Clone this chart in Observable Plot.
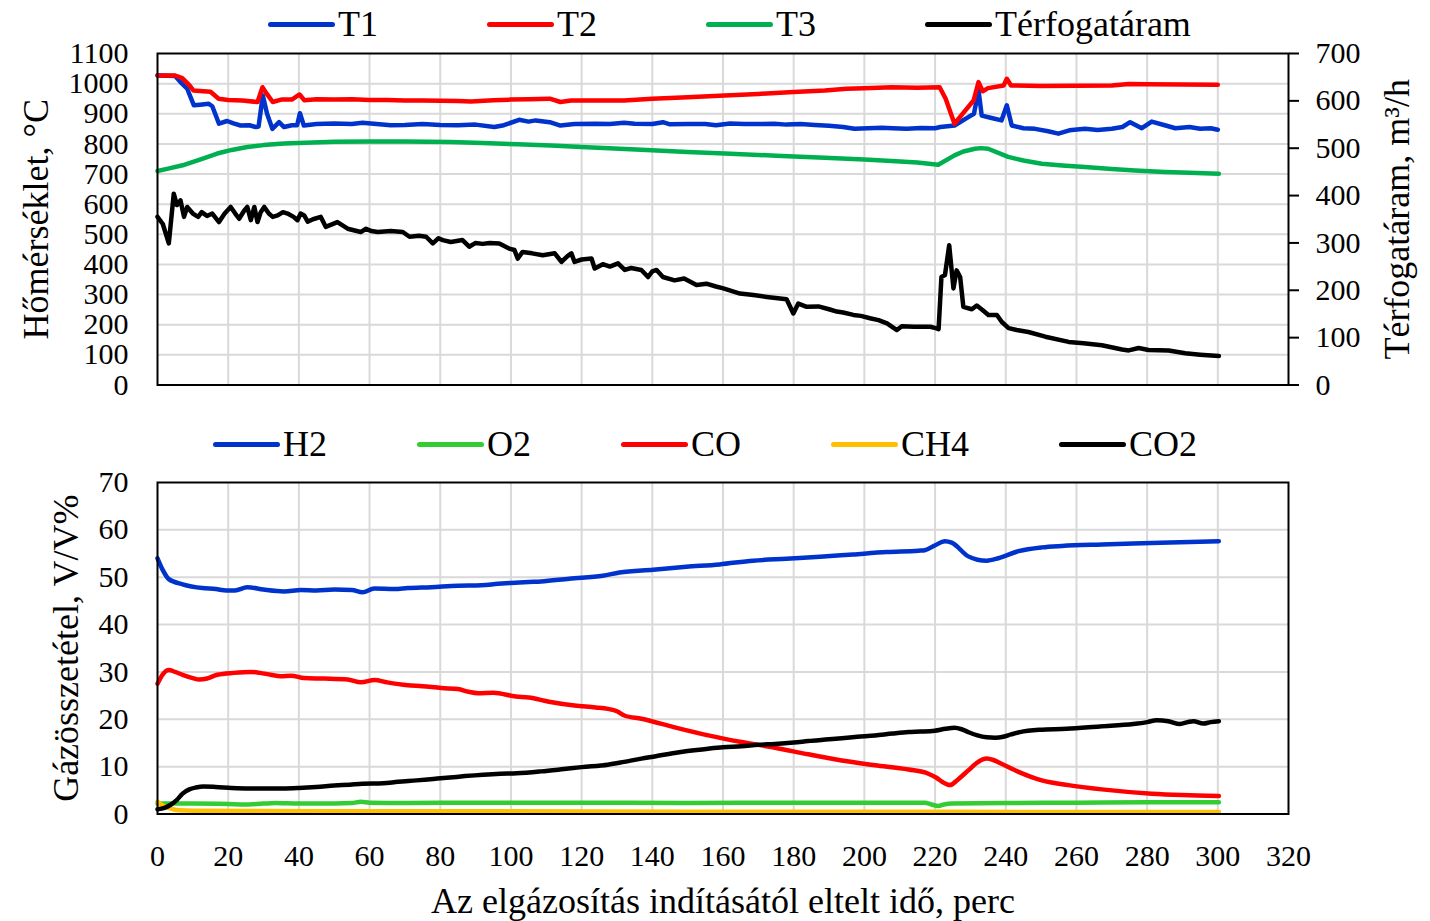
<!DOCTYPE html>
<html>
<head>
<meta charset="utf-8">
<script src="https://cdn.jsdelivr.net/npm/d3@7"></script>
<script src="https://cdn.jsdelivr.net/npm/@observablehq/plot@0.6"></script>
<style>
  body { margin: 0; background: #fff; font-family: "Liberation Serif", "Times New Roman", serif; }
  #wrap { position: relative; width: 1430px; height: 921px; overflow: hidden; background: #fff; }
  .legend { position: absolute; display: flex; align-items: center; height: 40px; line-height: 40px; font-size: 36px; white-space: nowrap; color: #000; }
  .item { display: flex; align-items: center; }
  .swatch { width: 67px; height: 5px; border-radius: 3px; margin-right: 3px; }
  #topChart { position: absolute; left: 0; top: 40px; }
  #bottomChart { position: absolute; left: 0; top: 460px; }
</style>
</head>
<body>
<div id="wrap">
  <div id="topLegend" class="legend" style="left:268px; top:4px; gap:109px;"></div>
  <div id="topChart"></div>
  <div id="bottomLegend" class="legend" style="left:213px; top:424px; gap:90px;"></div>
  <div id="bottomChart"></div>
</div>
<script>
// ---- Time axis (minutes since gasification start) ----
const xTicks = d3.range(0, 321, 20);

// ---- Upper panel: temperatures (°C) and volume flow (m3/h), [minute, value] ----
const tempTicks = d3.range(0, 1101, 100);
const flowTicks = d3.range(0, 701, 100);
const tempNames = ["T1", "T2", "T3", "Térfogatáram"];
const tempColors = ["#0033cc", "#ff0000", "#00b050", "#000000"];

const t1Points = [[0,1027],[5,1025],[6.5,1005],[8.4,983],[10.3,928],[12,930],[14.5,933],[15.5,925],[17.4,867],[19.7,876],[21.5,868],[23.5,861],[26,862],[27.8,856],[28.6,858],[29.8,961],[31,900],[32.5,850],[34.4,872],[35.8,856],[38,862],[39.5,862],[40.3,902],[41.4,861],[45,866],[50,868],[55,866],[58,870],[62,866],[66,862],[70,863],[75,866],[80,863],[85,862],[90,864],[95.3,856],[98,862],[102.3,880],[105,874],[107,878],[111,872],[114,861],[118,866],[124,867],[128,866],[132,870],[135,867],[140,866],[143,872],[145,865],[150,866],[155,866],[158,862],[162,868],[166,866],[170,866],[174.5,867],[178,864],[182,866],[186,863],[190,860],[194,856],[197.2,850],[201,852],[205,854],[208,852],[212,850],[216,853],[220,852],[221.5,856],[225.5,861],[229.4,889],[231,900],[232.3,977],[233.2,894],[236,886],[238.8,878],[240.3,928],[241.7,861],[245,852],[248.3,850],[252,842],[254.9,834],[258,845],[262.4,850],[266,846],[270,850],[273,856],[275.2,872],[278.5,852],[281.3,874],[285,862],[288,852],[292,856],[295,850],[298,852],[300,847]];

const t2Points = [[0,1027],[5,1027],[7,1018],[9,995],[10.2,977],[13,975],[15,973],[17.3,950],[20,946],[24,944],[28.3,939],[29.7,988],[31,965],[32.6,939],[35,947],[38,947],[40.2,964],[41.5,945],[45,948],[50,947],[55,948],[60,946],[65,946],[70,944],[75,944],[80,943],[85,942],[88.7,941],[95,945],[100,947],[105,948],[111,950],[114,939],[117,944],[124,944],[132,944],[140,950],[150,955],[160.5,961],[170,966],[180,972],[188.8,977],[195,983],[200,985],[207.7,988],[215,986],[221.3,988],[223,950],[225.5,867],[228,903],[230.9,944],[232.3,1005],[233.5,975],[235,985],[239.4,994],[240.3,1016],[241.5,994],[250,992],[260,993],[270,994],[274.8,999],[280,998],[290,997],[300,996]];

const t3Points = [[0,710],[3,718],[7.1,729],[12,748],[16.9,768],[21,780],[25.4,790],[30,796],[35.8,801],[42,804],[50,807],[59.5,808],[70,808],[83,806],[92,803],[101.9,799],[111.3,795],[120,790],[136.9,781],[150,773],[160.5,768],[175,761],[188.8,754],[200,748],[207.7,743],[215,738],[220.9,731],[225.5,762],[228,775],[231.3,784],[233,786],[235,784],[240.7,757],[245,745],[250.2,734],[256,728],[262.4,723],[270,717],[276.6,712],[285,707],[292,704],[300.3,701]];

const flowPoints = [[0,355],[1.5,340],[3.2,299],[4.6,404],[5.5,380],[6.5,390],[7.5,355],[8.4,376],[10,362],[11.5,355],[12.5,365],[14,357],[15.5,362],[17.4,344],[19,362],[20.7,376],[22,362],[23.1,351],[24.5,368],[25.4,376],[26.4,348],[27.4,376],[28.3,344],[29.2,365],[30.2,376],[31.5,362],[32.6,355],[34,358],[35.5,365],[36.8,362],[38.5,355],[39.6,348],[40.5,362],[41.5,358],[42.5,345],[44,350],[46.2,355],[47.6,334],[50.9,344],[53.8,330],[57.5,323],[59,330],[60.5,325],[62.3,323],[66,325],[69.4,323],[71.3,313],[74,315],[76,313],[77.9,299],[79.5,310],[80.7,306],[83,302],[86.3,306],[88.2,292],[90,300],[92,298],[94,300],[96.7,299],[99.5,288],[101,285],[101.9,267],[103.3,281],[106,278],[109,274],[112.4,278],[114.3,260],[116,272],[117.1,278],[118,260],[120,265],[122.8,267],[123.7,246],[126,255],[128,250],[130.3,257],[132.2,243],[134,247],[136.9,243],[138.8,228],[140,240],[141.2,243],[143,228],[146.3,221],[149,225],[152.5,211],[155.3,214],[158,208],[160.1,204],[164.8,193],[168.6,190],[172.4,186],[178,181],[179.9,151],[181.3,172],[183.7,165],[187,166],[190,160],[192.2,155],[194,153],[196.9,148],[199,146],[201.6,141],[204,137],[206.4,130],[209.2,116],[210.6,124],[214,123],[218.6,123],[220.2,120],[221,118],[221.8,228],[222.8,232],[224,295],[225.2,204],[226.1,242],[227.1,228],[228,165],[230.4,160],[231.8,168],[233.5,158],[235.1,148],[237.5,148],[238.9,133],[240.8,120],[243.1,116],[246.4,112],[251.2,102],[257.8,91],[262,88],[267.2,84],[272.9,75],[274.8,73],[277.6,78],[280.4,74],[286.1,73],[290.8,67],[295,64],[300.3,61]];

// ---- Lower panel: gas composition (V/V%), [minute, value] ----
const gasTicks = d3.range(0, 71, 10);
const gasNames = ["H2", "O2", "CO", "CH4", "CO2"];
const gasColors = ["#0033cc", "#33cc33", "#ff0000", "#ffc000", "#000000"];

const h2Points = [[0,54],[1.5,51.5],[3.2,49.6],[7.1,48.5],[12.7,47.7],[16.5,47.5],[19.5,47.2],[21.9,47.2],[25.4,47.9],[30,47.4],[35.8,47],[40.6,47.3],[45,47.2],[50,47.4],[55,47.3],[58,46.8],[61.3,47.6],[67,47.5],[70.8,47.7],[77.4,47.9],[85,48.2],[91.6,48.3],[96.3,48.6],[100,48.8],[105,49],[108.5,49.1],[116.5,49.7],[126,50.3],[130.7,51],[140.2,51.6],[149.6,52.2],[159,52.7],[168.5,53.5],[177.9,53.9],[187.4,54.3],[196.8,54.8],[206.3,55.3],[215.3,55.6],[217.1,55.7],[219.9,56.7],[222.8,57.6],[224.7,57.3],[229.4,54.4],[232,53.7],[234.6,53.5],[237.9,54],[243.6,55.5],[250.2,56.3],[255.9,56.6],[267.2,56.9],[281.3,57.2],[300.3,57.6]];

const o2Points = [[0,2.2],[10,2.2],[20,2.1],[24.6,2.0],[30,2.2],[33.3,2.3],[40,2.2],[50,2.2],[55,2.3],[57.6,2.6],[60,2.4],[70,2.3],[90,2.4],[120,2.4],[150,2.3],[180,2.4],[200,2.4],[215.3,2.4],[217.1,2.4],[219,2.0],[220.9,1.7],[222.5,2.0],[224.7,2.2],[240,2.3],[260,2.4],[280,2.5],[300.3,2.5]];

const coPoints = [[0,27.5],[1.5,29.5],[3.2,30.4],[5,30],[7.1,29.4],[10,28.7],[11.8,28.4],[14,28.6],[16.9,29.4],[21.6,29.8],[26.4,30],[29,29.8],[32,29.4],[34.9,29.1],[37.8,29.2],[41.5,28.7],[47.2,28.6],[53.8,28.4],[57.6,27.8],[61.4,28.3],[65,27.8],[70.8,27.2],[75,27],[80.3,26.6],[85,26.4],[88,25.8],[90.7,25.5],[95,25.6],[101.4,24.8],[105,24.6],[110.8,23.7],[118,22.9],[124,22.5],[127.4,22.2],[130,21.7],[132.1,20.8],[136.9,20.1],[146.3,18.3],[155.8,16.6],[165.2,15.2],[174.7,14],[184.1,12.6],[193.6,11.3],[203,10.3],[212.5,9.4],[218.1,8.5],[220.5,7.6],[222,6.8],[224.2,6.1],[226.5,7.3],[229.4,9.2],[232,10.9],[234.6,11.7],[236.5,11.4],[238.8,10.6],[243.6,8.9],[250.2,7.1],[257.7,6.1],[267.2,5.2],[281.3,4.3],[290,4],[300.3,3.8]];

const ch4Points = [[0,2.6],[1.5,1.8],[3.6,1.2],[6,0.8],[10,0.7],[50,0.6],[100,0.6],[150,0.5],[200,0.5],[250,0.4],[300.3,0.4]];

const co2Points = [[0,1],[2,1.3],[3.6,1.9],[5.5,3],[7.1,4.3],[9,5.2],[10.9,5.6],[13,5.8],[16.5,5.7],[21,5.5],[26,5.4],[30,5.4],[35.4,5.4],[40,5.5],[44.9,5.7],[50,6],[54.4,6.2],[58,6.4],[63.8,6.5],[68,6.8],[73.3,7.1],[78,7.4],[82.7,7.7],[87,8],[92.2,8.3],[97,8.5],[101.6,8.6],[108.5,9],[115,9.5],[120,9.9],[127.4,10.4],[132,11],[136.9,11.7],[141,12.2],[146.3,12.9],[150,13.3],[155.8,13.8],[160,14.1],[165.2,14.3],[170,14.6],[174.7,14.8],[180,15.1],[184.1,15.4],[190,15.8],[193.6,16],[198,16.3],[203,16.6],[208,17],[212.5,17.3],[216,17.4],[219.9,17.6],[223,18],[225.5,18.2],[227.5,17.9],[229.4,17.3],[232,16.6],[234.6,16.2],[237,16.1],[239.3,16.3],[241.5,16.8],[244,17.3],[249.6,17.8],[257.2,18],[266.6,18.5],[276.1,19],[280,19.4],[282.7,19.8],[286,19.6],[289.3,19],[291.5,19.4],[293.1,19.6],[295.9,19.1],[298,19.4],[300.3,19.6]];

// ---- helpers ----
const rows = (pts) => pts.map(([t, v]) => ({t, v}));
const flowToTemp = 1100 / 700; // secondary axis mapped onto the temperature scale
const plain = d => String(d);
const gridStyle = {stroke: "#d9d9d9", strokeOpacity: 1, strokeWidth: 2};
const fontStyle = {fontFamily: "'Liberation Serif', 'Times New Roman', serif", fontSize: "30px", color: "#000", background: "transparent", overflow: "visible"};

function legend(el, names, colors) {
  const items = d3.select(el).selectAll(".item").data(names).join("div").attr("class", "item");
  items.append("div").attr("class", "swatch").style("background", (d, i) => colors[i]);
  items.append("span").text(d => d);
}
legend("#topLegend", tempNames, tempColors);
legend("#bottomLegend", gasNames, gasColors);

// ---- upper chart ----
const tempSeries = [t1Points, t2Points, t3Points];
const topPlot = Plot.plot({
  width: 1430, height: 355,
  marginLeft: 157, marginRight: 142, marginTop: 13, marginBottom: 10.5,
  style: fontStyle,
  x: {domain: [0, 320], axis: null, label: null},
  y: {domain: [0, 1100], label: null},
  marks: [
    Plot.gridX(xTicks.filter(v => v > 0 && v < 320), gridStyle),
    Plot.gridY(tempTicks.filter(v => v > 0 && v < 1100), gridStyle),
    Plot.axisY(tempTicks, {anchor: "left", tickSize: 0, tickPadding: 29, label: null, tickFormat: plain}),
    Plot.axisY(flowTicks.map(v => v * flowToTemp), {anchor: "right", tickSize: 10, tickPadding: 17, strokeWidth: 2, label: null, tickFormat: d => String(Math.round(d / flowToTemp))}),
    ...tempSeries.map((s, i) => Plot.line(rows(s), {x: "t", y: "v", stroke: tempColors[i], strokeWidth: 4.5, strokeLinejoin: "round", strokeLinecap: "round"})),
    Plot.line(rows(flowPoints), {x: "t", y: d => d.v * flowToTemp, stroke: tempColors[3], strokeWidth: 4.5, strokeLinejoin: "round", strokeLinecap: "round"}),
    Plot.frame({stroke: "#000", strokeWidth: 2}),
    Plot.text(["Hőmérséklet, °C"], {frameAnchor: "left", dx: -121, rotate: -90, textAnchor: "middle", lineAnchor: "middle", fontSize: 36}),
    Plot.text(["Térfogatáram, m³/h"], {frameAnchor: "right", dx: 109, rotate: -90, textAnchor: "middle", lineAnchor: "middle", fontSize: 36})
  ]
});
document.getElementById("topChart").append(topPlot);

// ---- lower chart ----
const gasSeries = [h2Points, o2Points, coPoints, ch4Points, co2Points];
const bottomPlot = Plot.plot({
  width: 1430, height: 461,
  marginLeft: 157, marginRight: 142, marginTop: 22, marginBottom: 107.5,
  style: fontStyle,
  x: {domain: [0, 320], label: null},
  y: {domain: [0, 70], label: null},
  marks: [
    Plot.gridX(xTicks.filter(v => v > 0 && v < 320), gridStyle),
    Plot.gridY(gasTicks.filter(v => v > 0 && v < 70), gridStyle),
    Plot.axisY(gasTicks, {anchor: "left", tickSize: 0, tickPadding: 29, label: null, tickFormat: plain}),
    Plot.axisX(xTicks, {anchor: "bottom", tickSize: 0, tickPadding: 31, label: null, tickFormat: plain}),
    ...gasSeries.map((s, i) => Plot.line(rows(s), {x: "t", y: "v", stroke: gasColors[i], strokeWidth: 4.5, curve: "monotone-x", strokeLinejoin: "round", strokeLinecap: "round"})),
    Plot.frame({stroke: "#000", strokeWidth: 2}),
    Plot.text(["Gázösszetétel, V/V%"], {frameAnchor: "left", dx: -91, rotate: -90, textAnchor: "middle", lineAnchor: "middle", fontSize: 36}),
    Plot.text(["Az elgázosítás indításától eltelt idő, perc"], {frameAnchor: "bottom", dy: 87, textAnchor: "middle", lineAnchor: "middle", fontSize: 36})
  ]
});
document.getElementById("bottomChart").append(bottomPlot);
</script>
</body>
</html>
